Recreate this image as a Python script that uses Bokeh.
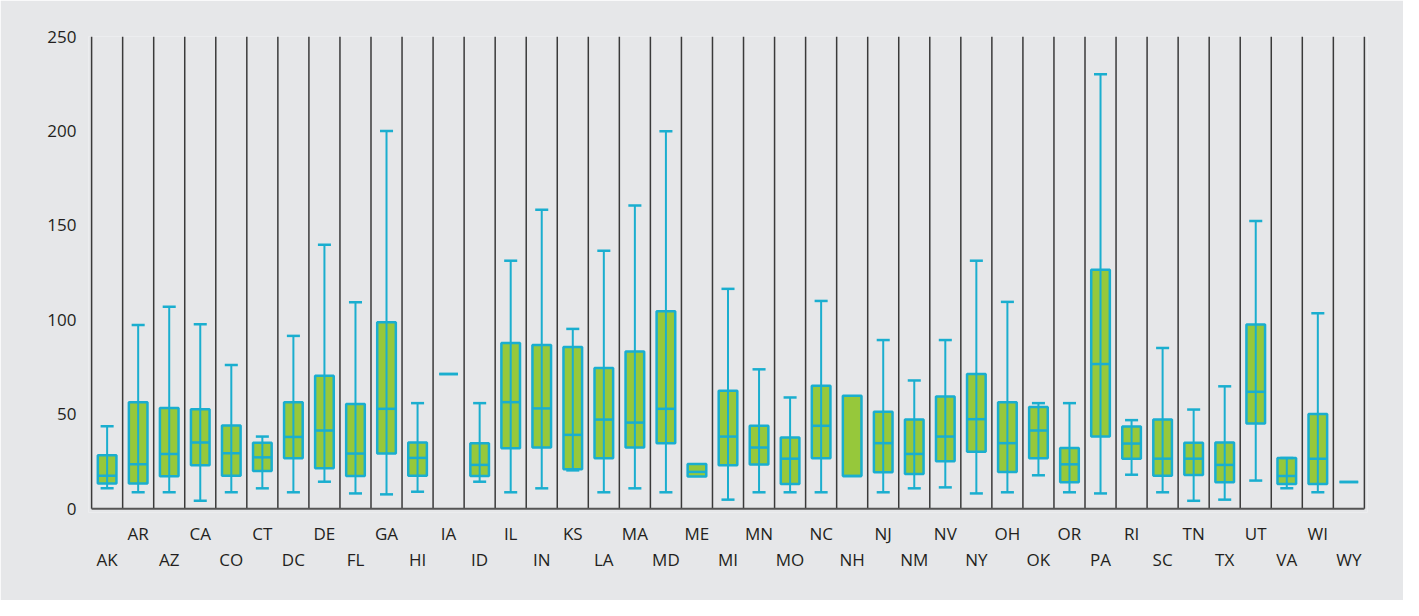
import numpy as np
from bokeh.plotting import figure
from bokeh.models import Range1d, FixedTicker, LinearAxis, ColumnDataSource
from bokeh.embed import file_html
from bokeh.resources import INLINE

states = ["AK", "AR", "AZ", "CA", "CO", "CT", "DC", "DE", "FL", "GA", "HI", "IA", "ID", "IL",
          "IN", "KS", "LA", "MA", "MD", "ME", "MI", "MN", "MO", "NC", "NH", "NJ", "NM", "NV",
          "NY", "OH", "OK", "OR", "PA", "RI", "SC", "TN", "TX", "UT", "VA", "WI", "WY"]
low = [10.8, 8.7, 8.7, 4.2, 8.7, 10.8, 8.7, 14.3, 8.1, 7.6, 9.0, 71.3, 14.3, 8.7,
       10.8, 20.3, 8.7, 10.8, 8.7, 17.0, 4.8, 8.7, 8.7, 8.7, 17.3, 8.7, 10.8, 11.3,
       8.1, 8.7, 17.7, 8.7, 8.1, 18.0, 8.7, 4.2, 4.8, 14.9, 10.8, 8.7, 14.1]
q1 = [13.3, 13.4, 17.2, 23.0, 17.5, 20.0, 26.7, 21.4, 17.3, 29.2, 17.5, 71.3, 17.3, 32.0,
      32.4, 20.9, 26.7, 32.4, 34.7, 17.0, 23.0, 23.4, 13.1, 26.7, 17.3, 19.3, 18.4, 25.1,
      30.1, 19.5, 26.7, 14.0, 38.2, 26.5, 17.5, 17.9, 14.0, 45.1, 13.1, 13.1, 14.1]
median = [17.5, 23.5, 29.0, 35.0, 29.4, 27.2, 38.0, 41.4, 29.2, 52.9, 26.9, 71.3, 23.2, 56.4,
          53.1, 39.1, 47.2, 45.6, 52.9, 19.5, 38.2, 32.4, 26.5, 43.9, 17.3, 34.7, 29.0, 38.2,
          47.4, 34.7, 41.4, 23.5, 76.6, 34.5, 26.5, 26.5, 23.2, 61.9, 17.3, 26.5, 14.1]
q3 = [28.3, 56.4, 53.3, 52.7, 44.1, 34.9, 56.4, 70.4, 55.4, 98.7, 35.0, 71.3, 34.7, 87.8,
      86.7, 85.6, 74.5, 83.2, 104.6, 23.7, 62.5, 43.9, 37.7, 65.1, 59.8, 51.3, 47.2, 59.4,
      71.3, 56.4, 53.8, 32.2, 126.5, 43.5, 47.2, 34.9, 35.0, 97.5, 26.9, 50.2, 14.1]
high = [43.7, 97.3, 106.9, 97.7, 76.1, 38.2, 91.5, 139.8, 109.3, 200.0, 55.9, 71.3, 55.9, 131.3,
        158.3, 95.2, 136.6, 160.5, 199.8, 23.7, 116.4, 73.8, 58.9, 110.0, 59.8, 89.3, 67.9, 89.3,
        131.3, 109.5, 55.9, 55.9, 230.0, 46.9, 85.1, 52.5, 64.8, 152.3, 26.9, 103.5, 14.1]
y_ticks = [0, 50, 100, 150, 200, 250]

GREEN = "#96c83b"
CYAN = "#1aaecf"
SEP = "#3a3a3a"
BG = "#e6e7e9"
TXT = "#231f20"
FONT = "Open Sans"
FS = "17px"

n = len(states)
xs = np.arange(n) + 0.5

p = figure(width=1403, height=600, output_backend="svg", toolbar_location=None,
           x_range=Range1d(-0.1, n + 0.1), y_range=Range1d(-2, 250),
           min_border_left=88, min_border_right=36, min_border_top=36, min_border_bottom=88)
p.background_fill_color = BG
p.border_fill_color = BG
p.outline_line_color = None
p.xgrid.visible = False
p.ygrid.visible = False
p.xaxis.visible = False

# y axis
p.yaxis.ticker = FixedTicker(ticks=y_ticks)
p.yaxis.axis_line_color = None
p.yaxis.major_tick_line_color = None
p.yaxis.minor_tick_line_color = None
p.yaxis.major_label_standoff = 6
p.yaxis.major_label_text_font = FONT
p.yaxis.major_label_text_font_size = FS
p.yaxis.major_label_text_color = TXT

# two stacked x axes for alternating labels
def make_axis(idx, standoff):
    ax = LinearAxis(ticker=FixedTicker(ticks=[float(xs[i]) for i in idx]),
                    major_label_overrides={float(xs[i]): states[i] for i in idx})
    ax.axis_line_color = None
    ax.major_tick_line_color = None
    ax.minor_tick_line_color = None
    ax.major_tick_out = 0
    ax.major_tick_in = 0
    ax.major_label_standoff = standoff
    ax.major_label_text_font = FONT
    ax.major_label_text_font_size = FS
    ax.major_label_text_color = TXT
    return ax

upper_idx = [i for i in range(n) if i % 2 == 1]
lower_idx = [i for i in range(n) if i % 2 == 0]
p.add_layout(make_axis(upper_idx, 9), "below")
p.add_layout(make_axis(lower_idx, 0), "below")

# separators and base line
bounds = np.arange(n + 1)
p.segment(x0=bounds, y0=0, x1=bounds, y1=y_ticks[-1], line_color=SEP, line_width=1.5)
p.segment(x0=[0], y0=[0], x1=[n], y1=[0], line_color="#555555", line_width=2)

src = ColumnDataSource(dict(x=xs, low=low, q1=q1, med=median, q3=q3, high=high,
                            x0=xs - 0.3, x1=xs + 0.3))

# boxes
p.vbar(x="x", width=0.6, bottom="q1", top="q3", source=src,
       fill_color=GREEN, line_color=CYAN, line_width=2.5)

# whiskers (only where present)
wi = [i for i in range(n) if low[i] < q1[i] or high[i] > q3[i]]
lo = np.array(low)[wi]
hi = np.array(high)[wi]
p.segment(x0=xs[wi], y0=lo, x1=xs[wi], y1=hi, line_color=CYAN, line_width=2)
# medians
p.segment(x0="x0", y0="med", x1="x1", y1="med", source=src, line_color=CYAN, line_width=2.5)
# caps
p.segment(x0=xs[wi] - 0.21, y0=hi, x1=xs[wi] + 0.21, y1=hi, line_color=CYAN, line_width=2.5)
p.segment(x0=xs[wi] - 0.21, y0=lo, x1=xs[wi] + 0.21, y1=lo, line_color=CYAN, line_width=2.5)

open("out.html", "w").write(file_html(p, INLINE))
